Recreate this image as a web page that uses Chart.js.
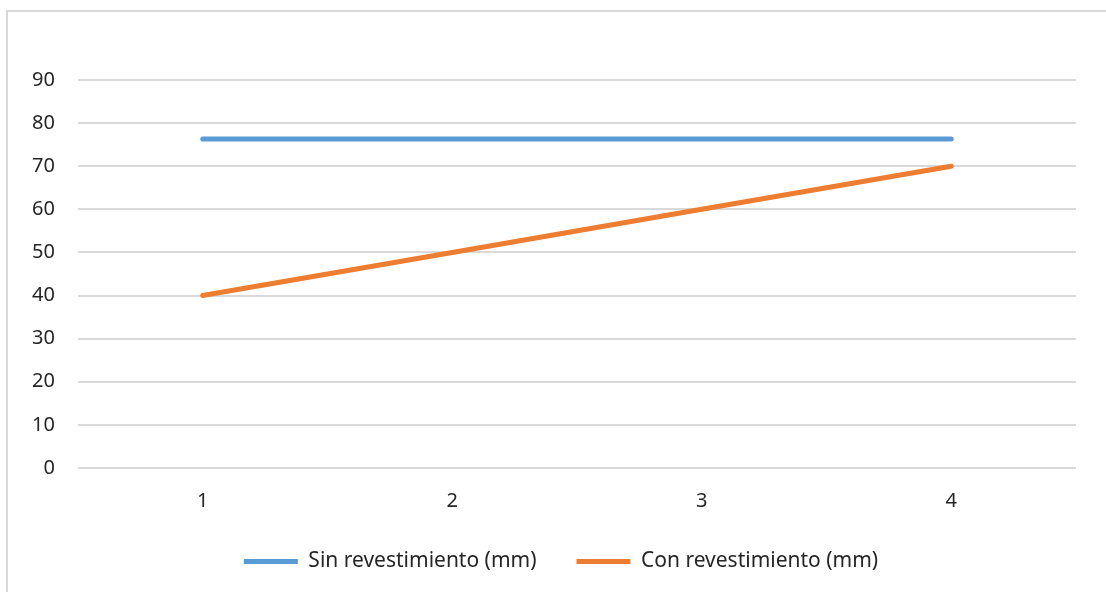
<!DOCTYPE html>
<html>
<head>
<meta charset="utf-8">
<script src="https://cdn.jsdelivr.net/npm/chart.js@4/dist/chart.umd.min.js"></script>
<style>
  html, body { margin: 0; padding: 0; background: #fff; overflow: hidden; }
  #frame {
    position: absolute; left: 6px; top: 10px; width: 1120px; height: 600px;
    border-left: 2px solid #d9d9d9; border-top: 2px solid #d9d9d9;
  }
  #wrap { position: absolute; left: 0; top: 0; width: 1106px; height: 592px; }
</style>
</head>
<body>
<div id="frame"></div>
<div id="wrap"><canvas id="chart" width="1106" height="592"></canvas></div>
<script>
  const categories = ["1", "2", "3", "4"];
  const sinRevestimiento = [76.3, 76.3, 76.3, 76.3];
  const conRevestimiento = [40, 50, 60, 70];
  const yTicks = [0, 10, 20, 30, 40, 50, 60, 70, 80, 90];

  const FONT = "'Noto Sans', sans-serif";
  const textColor = "#262626";
  const gridColor = "#d9d9d9";

  // centre the legend under the y-label column + plot, not the whole canvas
  const legendShift = {
    id: "legendShift",
    afterLayout(chart) {
      if (chart.legend) chart.legend.left += 46;
    },
  };

  new Chart(document.getElementById("chart"), {
    type: "line",
    data: {
      labels: categories,
      datasets: [
        {
          label: "Sin revestimiento (mm)",
          data: sinRevestimiento,
          borderColor: "#5b9bd5",
          backgroundColor: "#5b9bd5",
          borderWidth: 5,
          borderCapStyle: "round",
          pointRadius: 0,
          tension: 0,
        },
        {
          label: "Con revestimiento (mm)",
          data: conRevestimiento,
          borderColor: "#ed7d31",
          backgroundColor: "#ed7d31",
          borderWidth: 5,
          borderCapStyle: "round",
          pointRadius: 0,
          tension: 0,
        },
      ],
    },
    plugins: [legendShift],
    options: {
      responsive: false,
      animation: false,
      layout: { padding: { left: 0, right: 30, top: 80, bottom: 10 } },
      plugins: {
        tooltip: { enabled: false },
        legend: {
          position: "bottom",
          labels: {
            usePointStyle: true,
            pointStyle: "line",
            pointStyleWidth: 54,
            padding: 40,
            color: textColor,
            font: { family: FONT, size: 21 },
          },
        },
      },
      scales: {
        x: {
          offset: true,
          grid: { display: false, drawTicks: false },
          border: { display: false },
          ticks: { color: textColor, padding: 21, font: { family: FONT, size: 20 } },
          // legend padding already leaves room below the labels
          afterFit(scale) { scale.height = 43; },
        },
        y: {
          min: 0,
          max: 90,
          afterBuildTicks(scale) { scale.ticks = yTicks.map((v) => ({ value: v })); },
          grid: { color: gridColor, lineWidth: 2, drawTicks: false },
          border: { display: false },
          ticks: { color: textColor, padding: 23, font: { family: FONT, size: 20 } },
          afterFit(scale) { scale.width = 78; },
        },
      },
    },
  });
</script>
</body>
</html>
